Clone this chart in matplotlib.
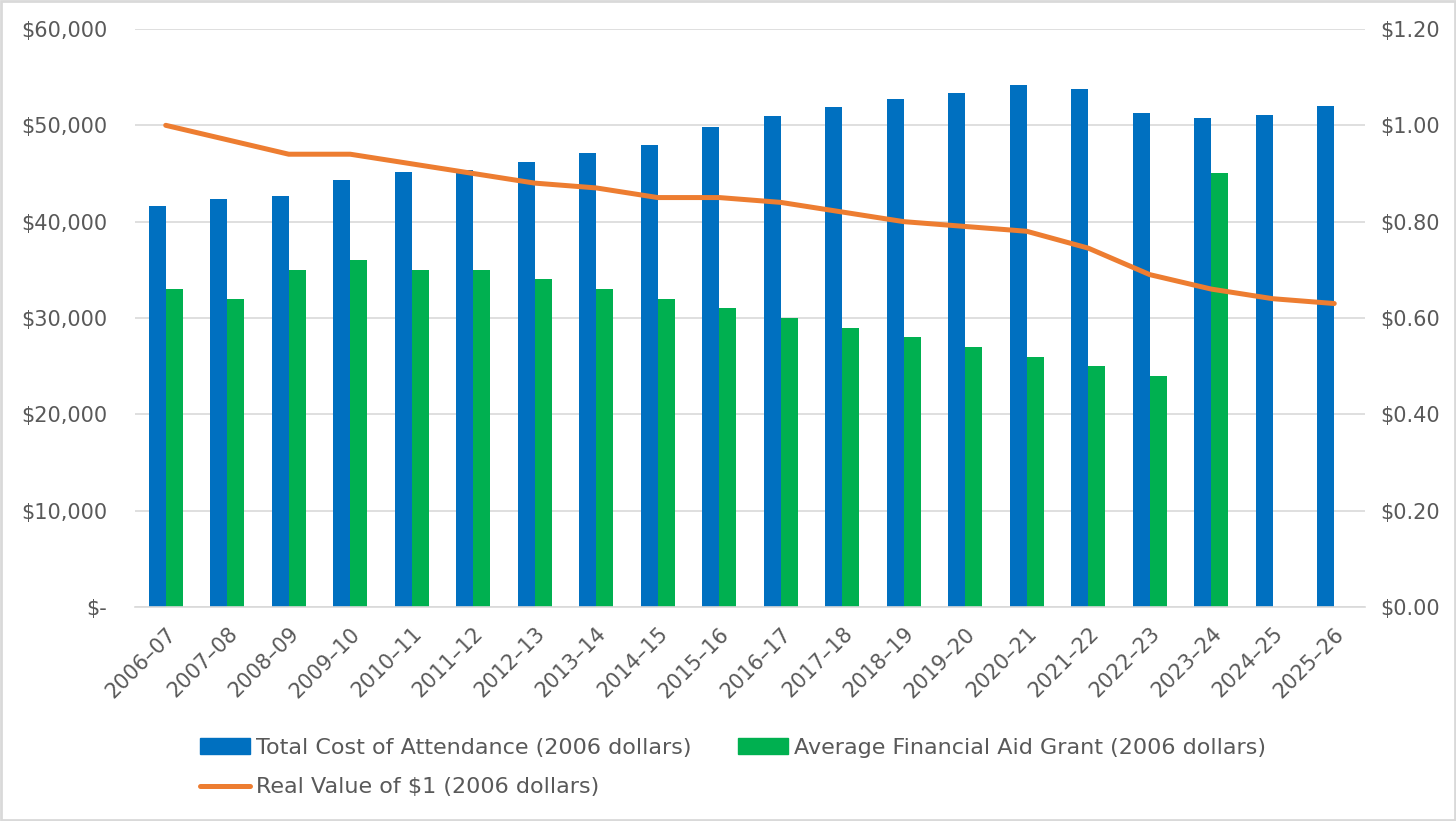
import matplotlib
matplotlib.use("Agg")
import matplotlib.pyplot as plt
import numpy as np
from matplotlib.ticker import FuncFormatter, MultipleLocator
from matplotlib.patches import Rectangle, Patch
from matplotlib.lines import Line2D

years = ["2006–07", "2007–08", "2008–09", "2009–10", "2010–11", "2011–12", "2012–13",
         "2013–14", "2014–15", "2015–16", "2016–17", "2017–18", "2018–19", "2019–20",
         "2020–21", "2021–22", "2022–23", "2023–24", "2024–25", "2025–26"]
total_cost = [41600, 42400, 42700, 44300, 45200, 45400, 46200, 47100, 48000, 49800,
              51000, 51900, 52700, 53400, 54200, 53800, 51300, 50800, 51100, 52000]
aid_grant = [33000, 32000, 35000, 36000, 35000, 35000, 34000, 33000, 32000, 31000,
             30000, 29000, 28000, 27000, 26000, 25000, 24000, 45000, np.nan, np.nan]
real_value = [1.00, 0.97, 0.94, 0.94, 0.92, 0.90, 0.88, 0.87, 0.85, 0.85,
              0.84, 0.82, 0.80, 0.79, 0.78, 0.745, 0.69, 0.66, 0.64, 0.63]

BLUE = "#0070C0"
GREEN = "#00B050"
ORANGE = "#ED7D31"
GRAY = "#595959"
GRID = "#D9D9D9"

plt.rcParams['font.family'] = ['DejaVu Sans']
fig = plt.figure(figsize=(14.56, 8.21), dpi=100)
ax = fig.add_axes([0.0927, 0.2607, 0.8448, 0.704])
ax2 = ax.twinx()

x = np.arange(len(years))
w = 0.28
ax.bar(x - w / 2, total_cost, w, color=BLUE, zorder=2)
ax.bar(x + w / 2, aid_grant, w, color=GREEN, zorder=2)
ax2.plot(x, real_value, color=ORANGE, lw=3.6, solid_capstyle='round',
         solid_joinstyle='round', zorder=3)

ax.set_xlim(-0.5, len(years) - 0.5)
ax.set_ylim(0, 60000)
ax2.set_ylim(0, 1.2)
ax.yaxis.set_major_locator(MultipleLocator(10000))
ax2.yaxis.set_major_locator(MultipleLocator(0.2))
ax.yaxis.set_major_formatter(FuncFormatter(lambda v, p: "$-" if v == 0 else f"${v:,.0f}"))
ax2.yaxis.set_major_formatter(FuncFormatter(lambda v, p: f"${v:.2f}"))
ax.grid(axis='y', color=GRID, lw=1.2, zorder=0)
ax.set_axisbelow(True)

for a in (ax, ax2):
    for s in ('top', 'left', 'right', 'bottom'):
        a.spines[s].set_visible(False)
    a.tick_params(length=0, labelsize=15, colors=GRAY)
ax.spines['bottom'].set_visible(True)
ax.spines['bottom'].set_color(GRID)
ax.spines['bottom'].set_linewidth(1.2)
ax.yaxis.set_tick_params(pad=20)
ax2.yaxis.set_tick_params(pad=11)

ax.set_xticks(x)
ax.set_xticklabels(years, rotation=45, ha='right', rotation_mode='anchor')
ax.xaxis.set_tick_params(pad=12)

handles = [Patch(color=BLUE), Line2D([0], [0], color=ORANGE, lw=3.6, solid_capstyle='round'),
           Patch(color=GREEN)]
labels = ["Total Cost of Attendance (2006 dollars)", "Real Value of $1 (2006 dollars)",
          "Average Financial Aid Grant (2006 dollars)"]
fig.legend(handles, labels, ncol=2, loc='center left', bbox_to_anchor=(0.1374, 0.065),
           frameon=False, fontsize=16, labelcolor=GRAY, handlelength=2.25,
           handleheight=0.72, handletextpad=0.27, columnspacing=2.1, labelspacing=0.88,
           borderpad=0, borderaxespad=0)

fig.add_artist(Rectangle((0.001, 0.001), 0.998, 0.998, transform=fig.transFigure,
                         fill=False, edgecolor=GRID, lw=2))

fig.savefig("out.png", dpi=100)
